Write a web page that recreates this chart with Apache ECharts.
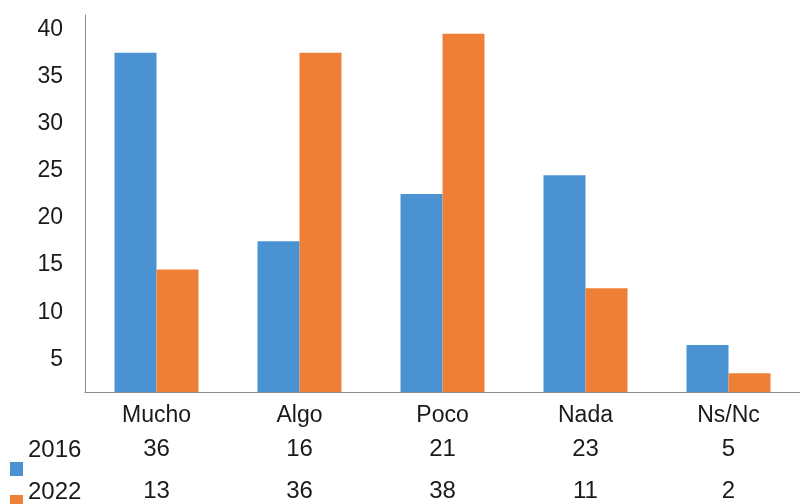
<!DOCTYPE html>
<html>
<head>
<meta charset="utf-8">
<script src="https://cdn.jsdelivr.net/npm/echarts@6/dist/echarts.min.js"></script>
<style>
html,body{margin:0;padding:0;background:#fff;}
#c{width:800px;height:504px;}
</style>
</head>
<body>
<div id="c"></div>
<script>
const categories = ['Mucho', 'Algo', 'Poco', 'Nada', 'Ns/Nc'];
const seriesNames = ['2016', '2022'];
const values2016 = [36, 16, 21, 23, 5];
const values2022 = [13, 36, 38, 11, 2];
const yTicks = { min: 0, max: 40, interval: 5 };

const FONT = 'Liberation Sans, Arial, sans-serif';
const BLUE = '#4b92d3';
const ORANGE = '#ee7f36';
const TXT = '#1a1a1a';

const chart = echarts.init(document.getElementById('c'), null, { renderer: 'canvas' });

const tableRowAxis = (data, offset) => ({
  type: 'category',
  data: data.map(String),
  position: 'bottom',
  offset: offset,
  axisLine: { show: false },
  axisTick: { show: false },
  splitLine: { show: false },
  axisLabel: { fontSize: 24, color: TXT, fontFamily: FONT, margin: 10, interval: 0 }
});

const legendItem = (name, top) => ({
  data: [name],
  orient: 'vertical',
  left: 10,
  top: top,
  padding: 0,
  itemWidth: 13,
  itemHeight: 14,
  icon: 'rect',
  formatter: () => '',
  selectedMode: false
});

chart.setOption({
  animation: false,
  backgroundColor: '#ffffff',
  textStyle: { fontFamily: FONT },
  grid: { left: 85, right: -10, top: 15, bottom: 112 },
  legend: [legendItem(seriesNames[0], 462), legendItem(seriesNames[1], 495)],
  xAxis: [
    {
      type: 'category',
      data: categories,
      position: 'bottom',
      axisLine: { show: true, lineStyle: { color: '#8c8c8c', width: 1 } },
      axisTick: { show: false },
      splitLine: { show: false },
      axisLabel: { fontSize: 23, color: TXT, fontFamily: FONT, margin: 12, interval: 0 }
    },
    tableRowAxis(values2016, 35),
    tableRowAxis(values2022, 77)
  ],
  yAxis: {
    type: 'value',
    min: yTicks.min,
    max: yTicks.max,
    interval: yTicks.interval,
    axisLine: { show: true, lineStyle: { color: '#8c8c8c', width: 1 } },
    axisTick: { show: false },
    splitLine: { show: false },
    axisLabel: {
      showMinLabel: false,
      fontSize: 23,
      color: TXT,
      fontFamily: FONT,
      margin: 22,
      verticalAlign: 'top',
      padding: [3, 0, 0, 0]
    }
  },
  graphic: [
    { type: 'text', left: 28, top: 438, style: { text: seriesNames[0], fontSize: 24, fill: TXT, fontFamily: FONT } },
    { type: 'text', left: 28, top: 480, style: { text: seriesNames[1], fontSize: 24, fill: TXT, fontFamily: FONT } }
  ],
  series: [
    { name: seriesNames[0], type: 'bar', xAxisIndex: 0, data: values2016, barWidth: 42, barGap: '0%', itemStyle: { color: BLUE } },
    { name: seriesNames[1], type: 'bar', xAxisIndex: 0, data: values2022, barWidth: 42, barGap: '0%', itemStyle: { color: ORANGE } }
  ]
});
</script>
</body>
</html>
